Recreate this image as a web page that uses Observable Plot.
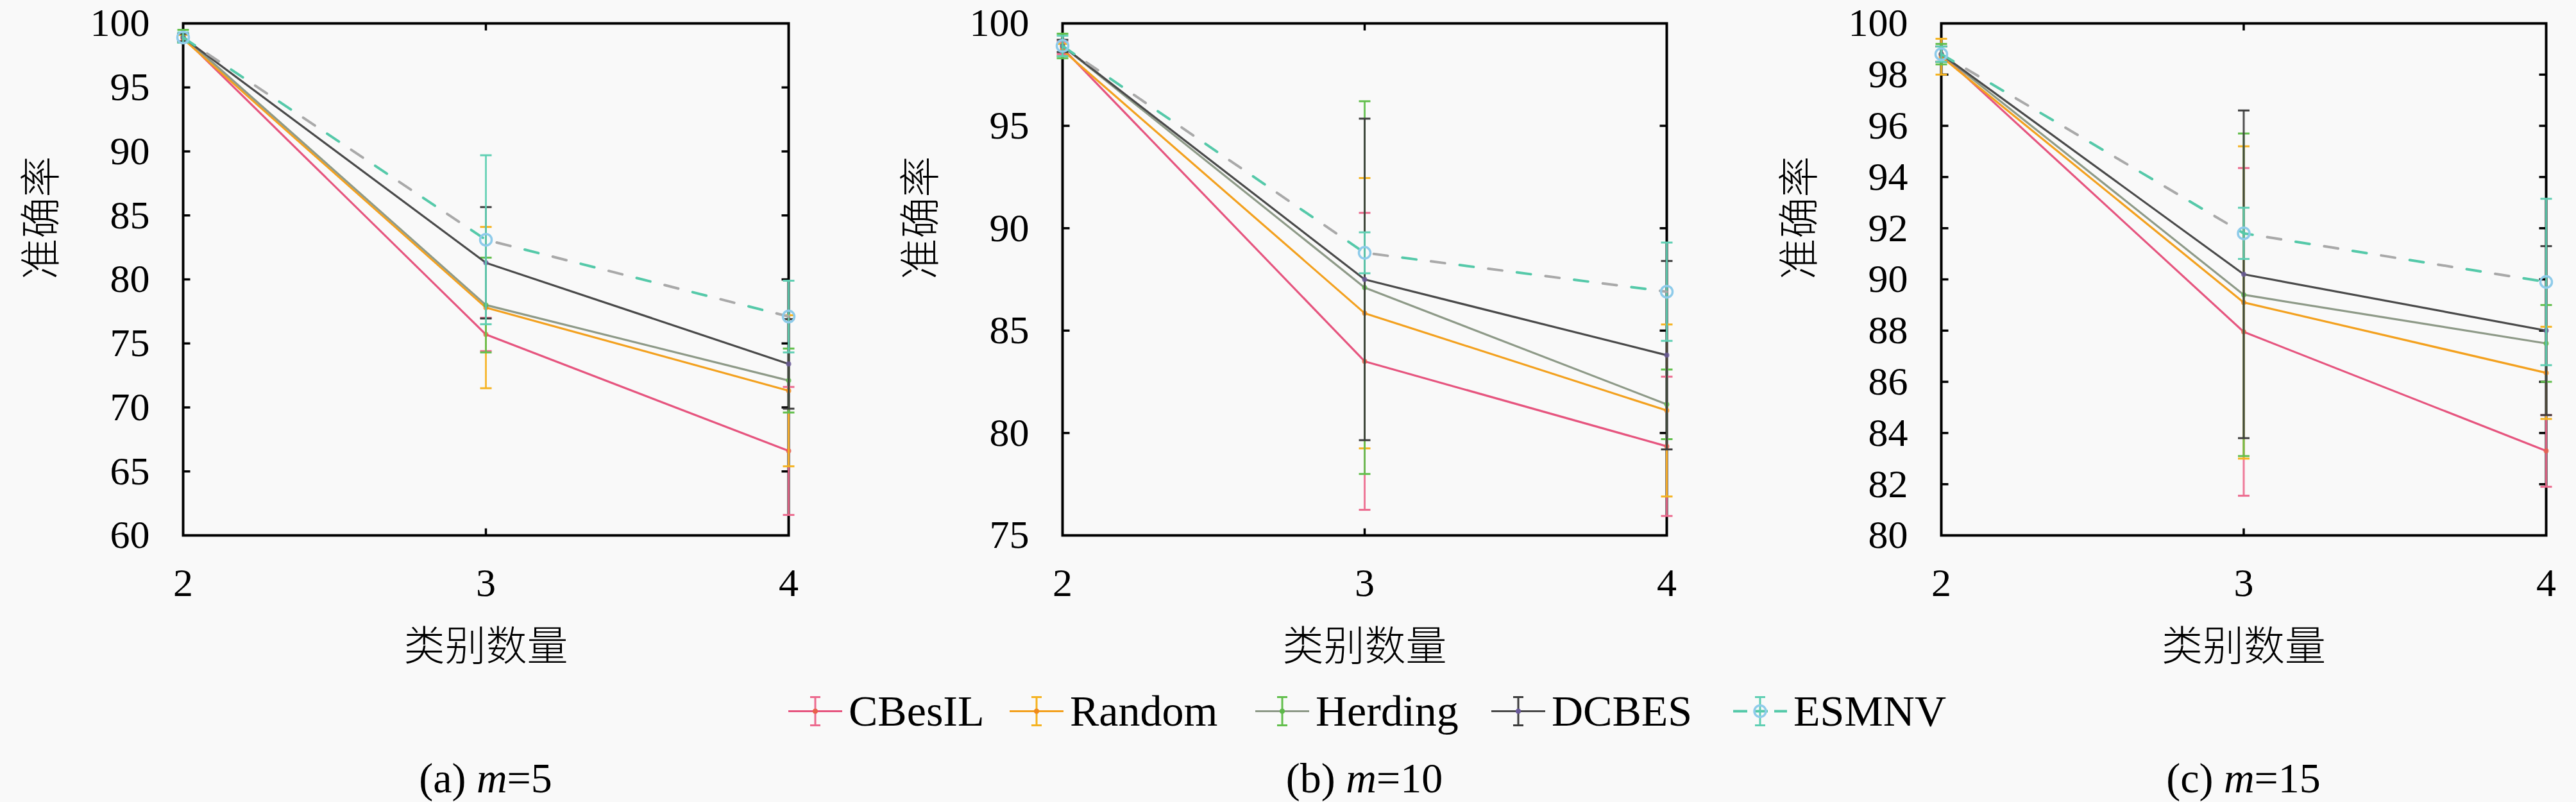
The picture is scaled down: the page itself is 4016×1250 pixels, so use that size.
<!DOCTYPE html>
<html><head><meta charset="utf-8">
<script src="https://cdn.jsdelivr.net/npm/d3@7"></script>
<script src="https://cdn.jsdelivr.net/npm/@observablehq/plot@0.6"></script>
<style>
body{margin:0;background:#f9f9f9;}
#root{position:relative;width:4016px;height:1250px;background:#f9f9f9;overflow:hidden;font-family:"Liberation Serif",serif;color:#000;}
.panel{position:absolute;top:0;}
.cap{position:absolute;font-size:66px;transform:translate(-50%,-50%);white-space:nowrap;}
.leg{position:absolute;display:flex;align-items:center;font-size:68px;transform:translateY(-50%);white-space:nowrap;}
.leg svg{margin-right:8px;}
</style></head><body><div id="root"></div>
<script>
// ---------- data ----------
const categories = [2, 3, 4];
const methods = ["CBesIL", "Random", "Herding", "DCBES", "ESMNV"];
const captions = ["(a)", "(b)", "(c)"];
const mValues = ["5", "10", "15"];
const yLabel = "准确率";
const xLabel = "类别数量";

// rows: CBesIL, Random, Herding, DCBES, ESMNV ; columns: 2,3,4 classes
const accM5  = [[98.9, 75.7, 66.6], [98.8, 77.8, 71.3], [99.0, 78.0, 72.1], [98.9, 81.3, 73.4], [98.9, 83.1, 77.1]];
const errM5  = [[0.3, 1.3, 5.0],   [0.3, 6.3, 5.9],    [0.5, 3.7, 2.5],    [0.3, 4.35, 3.5],   [0.4, 6.6, 2.8]];
const accM10 = [[98.8, 83.5, 79.35],[98.7, 85.85, 81.1],[98.9, 87.1, 81.4],[98.9, 87.5, 83.8],[98.9, 88.8, 86.9]];
const errM10 = [[0.3, 7.25, 3.4],  [0.3, 6.6, 4.2],    [0.6, 9.1, 1.7],    [0.3, 7.85, 4.6],   [0.5, 1.0, 2.4]];
const accM15 = [[98.8, 87.95, 83.3],[98.7, 89.1, 86.35],[98.8, 89.4, 87.5],[98.8, 90.2, 88.0],[98.8, 91.8, 89.9]];
const errM15 = [[0.3, 6.4, 1.4],   [0.7, 6.1, 1.8],    [0.4, 6.3, 1.5],    [0.3, 6.4, 3.3],    [0.3, 1.0, 3.25]];

const yTicksM5  = [60, 65, 70, 75, 80, 85, 90, 95, 100];
const yTicksM10 = [75, 80, 85, 90, 95, 100];
const yTicksM15 = [80, 82, 84, 86, 88, 90, 92, 94, 96, 98, 100];

// ---------- styles ----------
const lineColors = ["#e6557f", "#f3a11f", "#8e9a88", "#4a4a4a", "#55c9a9"];
const errColors  = ["#ec6a8e", "#f5b321", "#62bf4c", "#3c3c3c", "#5fcfb3"];
const markColors = ["#e8604a", "#f08a1a", "#5db84a", "#6a5a9a", "#8ecbea"];
const esmnvGray = "#a9a9a9";

const panels = [
  {acc: accM5,  err: errM5,  ticks: yTicksM5,  left: 0,    width: 1340, ml: 285, mr: 111},
  {acc: accM10, err: errM10, ticks: yTicksM10, left: 1340, width: 1340, ml: 316, mr: 82},
  {acc: accM15, err: errM15, ticks: yTicksM15, left: 2680, width: 1336, ml: 346, mr: 47}
];
const H = 1000, MT = 36, MB = 166;

const seg = (x0, y0, x1, y1) => ({draw(c) { c.moveTo(x0, y0); c.lineTo(x1, y1); }});
const capSym = seg(-9, 0, 9, 0);
const tickL = seg(0, 0, 11, 0), tickR = seg(-11, 0, 0, 0);
const tickB = seg(0, 0, 0, -11), tickT = seg(0, 0, 0, 11);

const root = document.getElementById("root");

panels.forEach((p, pi) => {
  const marks = [];
  const ymin = p.ticks[0], ymax = p.ticks[p.ticks.length - 1];
  const innerY = p.ticks.slice(1, -1);
  const innerX = categories.slice(1, -1);
  marks.push(Plot.frame({stroke: "#000", strokeWidth: 4}));
  marks.push(Plot.dot(innerY, {y: d => d, frameAnchor: "left", symbol: tickL, stroke: "#000", strokeWidth: 3.5, fill: "none"}));
  marks.push(Plot.dot(innerY, {y: d => d, frameAnchor: "right", symbol: tickR, stroke: "#000", strokeWidth: 3.5, fill: "none"}));
  marks.push(Plot.dot(innerX, {x: d => d, frameAnchor: "bottom", symbol: tickB, stroke: "#000", strokeWidth: 3.5, fill: "none"}));
  marks.push(Plot.dot(innerX, {x: d => d, frameAnchor: "top", symbol: tickT, stroke: "#000", strokeWidth: 3.5, fill: "none"}));
  marks.push(Plot.axisX({ticks: categories, tickSize: 0, tickPadding: 50, tickFormat: d => String(d), label: null}));
  marks.push(Plot.axisY({ticks: p.ticks, tickSize: 0, tickPadding: 52, tickFormat: d => String(d), label: null}));
  marks.push(Plot.text([yLabel], {frameAnchor: "left", dx: -220, rotate: -90, fontSize: 64, fontWeight: 300, fontFamily: "Noto Sans CJK SC", fill: "#000"}));
  marks.push(Plot.text([xLabel], {frameAnchor: "bottom", dy: 194, fontSize: 64, fontWeight: 300, fontFamily: "Noto Sans CJK SC", fill: "#000"}));

  methods.forEach((m, i) => {
    const rows = categories.map((c, j) => ({x: c, y: p.acc[i][j], e: p.err[i][j], method: m}));
    const lo = d => d.y - d.e, hi = d => d.y + d.e;
    marks.push(Plot.ruleX(rows, {x: "x", y1: lo, y2: hi, stroke: errColors[i], strokeWidth: 3, strokeOpacity: 0.9}));
    marks.push(Plot.dot(rows, {x: "x", y: lo, symbol: capSym, stroke: errColors[i], strokeWidth: 3, fill: "none"}));
    marks.push(Plot.dot(rows, {x: "x", y: hi, symbol: capSym, stroke: errColors[i], strokeWidth: 3, fill: "none"}));
    if (m === "ESMNV") {
      marks.push(Plot.line(rows, {x: "x", y: "y", stroke: lineColors[i], strokeWidth: 4, strokeDasharray: "22 68"}));
      marks.push(Plot.line(rows, {x: "x", y: "y", stroke: esmnvGray, strokeWidth: 4, strokeDasharray: "22 68", strokeDashoffset: -45}));
      marks.push(Plot.dot(rows, {x: "x", y: "y", r: 9, stroke: markColors[i], strokeWidth: 3.5, fill: "none"}));
    } else {
      marks.push(Plot.line(rows, {x: "x", y: "y", stroke: lineColors[i], strokeWidth: 3.2}));
      marks.push(Plot.dot(rows, {x: "x", y: "y", r: 4, fill: markColors[i], fillOpacity: 0.8}));
    }
  });

  const svg = Plot.plot({
    width: p.width, height: H,
    marginLeft: p.ml, marginRight: p.mr, marginTop: MT, marginBottom: MB,
    x: {domain: [categories[0], categories[categories.length - 1]], label: null},
    y: {domain: [ymin, ymax], label: null},
    style: {fontSize: "62px", fontFamily: "Liberation Serif, serif", background: "transparent", color: "#000", overflow: "visible"},
    marks
  });
  svg.classList.add("panel");
  svg.style.left = p.left + "px";
  root.appendChild(svg);

  const cap = document.createElement("div");
  cap.className = "cap";
  cap.style.left = (p.left + p.ml + (p.width - p.ml - p.mr) / 2) + "px";
  cap.style.top = "1213px";
  cap.innerHTML = `${captions[pi]} <i>m</i>=${mValues[pi]}`;
  root.appendChild(cap);
});

// ---------- legend ----------
const legX = [1227, 1572, 1955, 2323, 2700];
methods.forEach((m, i) => {
  const item = document.createElement("div");
  item.className = "leg";
  item.style.left = legX[i] + "px";
  item.style.top = "1108px";
  const s = d3.create("svg").attr("width", 88).attr("height", 70);
  const line = s.append("line").attr("x1", 2).attr("x2", 86).attr("y1", 35).attr("y2", 35)
    .attr("stroke", lineColors[i]).attr("stroke-width", m === "ESMNV" ? 4 : 3);
  if (m === "ESMNV") line.attr("stroke-dasharray", "22 10");
  s.append("line").attr("x1", 44).attr("x2", 44).attr("y1", 13).attr("y2", 57).attr("stroke", errColors[i]).attr("stroke-width", 3);
  s.append("line").attr("x1", 36).attr("x2", 52).attr("y1", 13).attr("y2", 13).attr("stroke", errColors[i]).attr("stroke-width", 3);
  s.append("line").attr("x1", 36).attr("x2", 52).attr("y1", 57).attr("y2", 57).attr("stroke", errColors[i]).attr("stroke-width", 3);
  if (m === "ESMNV") s.append("circle").attr("cx", 44).attr("cy", 35).attr("r", 9).attr("fill", "none").attr("stroke", markColors[i]).attr("stroke-width", 3.5);
  else s.append("circle").attr("cx", 44).attr("cy", 35).attr("r", 4).attr("fill", markColors[i]);
  item.appendChild(s.node());
  const t = document.createElement("span");
  t.textContent = m;
  item.appendChild(t);
  root.appendChild(item);
});
</script></body></html>
